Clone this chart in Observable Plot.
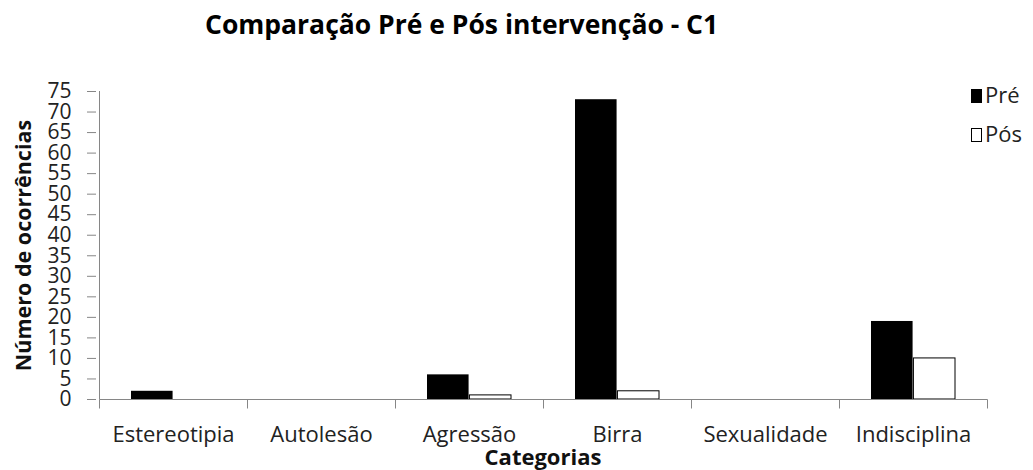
<!DOCTYPE html>
<html>
<head>
<meta charset="utf-8">
<script src="https://cdn.jsdelivr.net/npm/d3@7"></script>
<script src="https://cdn.jsdelivr.net/npm/@observablehq/plot@0.6"></script>
<style>
  body { margin: 0; background: #fff; font-family: "Open Sans", sans-serif; }
  #wrap { position: relative; width: 1033px; height: 470px; overflow: hidden; }
  #title { position: absolute; left: 205px; top: 6px; font-weight: bold; font-size: 26.5px; color: #000; white-space: nowrap; }
  #chart { position: absolute; left: 0; top: 50px; }
  .lg-box { position: absolute; width: 11px; height: 14px; box-sizing: border-box; border: 1px solid #000; }
  .lg-text { position: absolute; font-size: 22px; color: #222; white-space: nowrap; }
</style>
</head>
<body>
<div id="wrap">
  <div id="title"></div>
  <div id="chart"></div>
  <div class="lg-box" style="left:971px; top:89px; background:#000;"></div>
  <div class="lg-text" id="lg1" style="left:985px; top:79px;"></div>
  <div class="lg-box" style="left:971px; top:128px; background:#fff;"></div>
  <div class="lg-text" id="lg2" style="left:985px; top:118px;"></div>
</div>
<script>
const chartTitle = "Comparação Pré e Pós intervenção - C1";
const categories = ["Estereotipia", "Autolesão", "Agressão", "Birra", "Sexualidade", "Indisciplina"];
const seriesNames = ["Pré", "Pós"];
const preValues = [2, 0, 6, 73, 0, 19];
const posValues = [0, 0, 1, 2, 0, 10];
const yTicks = [0, 5, 10, 15, 20, 25, 30, 35, 40, 45, 50, 55, 60, 65, 70, 75];
const xTitle = "Categorias";
const yTitle = "Número de ocorrências";

document.getElementById("title").textContent = chartTitle;
document.getElementById("lg1").textContent = seriesNames[0];
document.getElementById("lg2").textContent = seriesNames[1];

const preData = categories.map((c, i) => ({category: c, series: seriesNames[0], value: preValues[i]}));
const posData = categories.map((c, i) => ({category: c, series: seriesNames[1], value: posValues[i]}));

const W = 1033, H = 420, ML = 96, MR = 44, MT = 41, MB = 71;
const step = (W - ML - MR) / categories.length;
const outer = step * 0.215;
const barW = (step - 2 * outer) / 2;

const axisGray = "#868686";

function categoryEdges(index, scales) {
  const x = scales.x, y = scales.y;
  const bw = typeof x.bandwidth === "function" ? x.bandwidth() : x.bandwidth;
  const y0 = Math.round(y(0)) + 0.5;
  const yTop = Math.round(y(yTicks[yTicks.length - 1]));
  const edges = categories.map(c => Math.round(x(c)) + 0.5)
    .concat([Math.round(x(categories[categories.length - 1]) + bw) + 0.5]);
  const g = d3.create("svg:g").attr("stroke", axisGray).attr("fill", "none");
  g.append("line").attr("x1", edges[0]).attr("x2", edges[edges.length - 1]).attr("y1", y0).attr("y2", y0);
  g.append("line").attr("x1", edges[0]).attr("x2", edges[0]).attr("y1", yTop).attr("y2", y0);
  g.selectAll("line.edge").data(edges).join("line").attr("class", "edge")
    .attr("x1", d => d).attr("x2", d => d).attr("y1", y0).attr("y2", y0 + 9);
  return g.node();
}

const chart = Plot.plot({
  width: W, height: H,
  marginLeft: ML, marginRight: MR, marginTop: MT, marginBottom: MB,
  style: {fontFamily: "'Open Sans', sans-serif", background: "#fff"},
  x: {domain: categories, padding: 0},
  y: {domain: [0, 75]},
  marks: [
    Plot.axisY({ticks: yTicks, tickSize: 9, tickPadding: 16, fontSize: 21, stroke: axisGray, fill: "#222", tickFormat: d => String(d), label: null}),
    Plot.axisX({tickSize: 0, tickPadding: 27, fontSize: 22, fill: "#222", label: null}),
    Plot.barY(preData, {filter: d => d.value > 0, x: "category", y: "value", fill: "#000",
      insetLeft: outer, insetRight: step - outer - barW}),
    Plot.barY(posData, {filter: d => d.value > 0, x: "category", y: "value", fill: "#fff", stroke: "#000", strokeWidth: 1,
      insetLeft: outer + barW, insetRight: outer}),
    categoryEdges,
    Plot.text([xTitle], {text: d => d, frameAnchor: "bottom", lineAnchor: "bottom", dy: 65, fontSize: 22, fontWeight: "bold", fill: "#111"}),
    Plot.text([yTitle], {text: d => d, frameAnchor: "left", textAnchor: "middle", rotate: -90, dx: -72, fontSize: 21.5, fontWeight: "bold", fill: "#111"})
  ]
});
document.getElementById("chart").appendChild(chart);
</script>
</body>
</html>
